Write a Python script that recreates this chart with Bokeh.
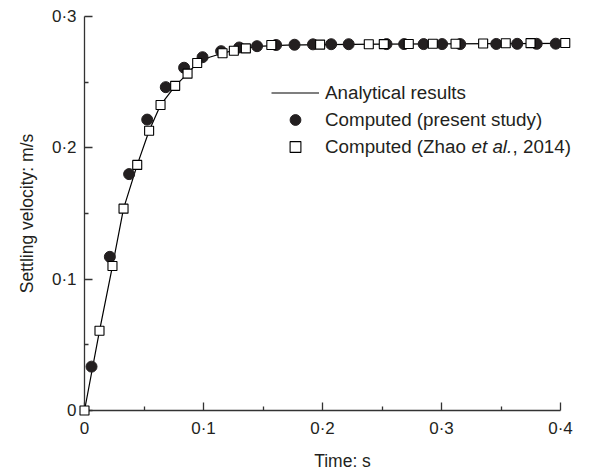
from bokeh.plotting import figure
from bokeh.models import (Range1d, FixedTicker, CustomJSTickFormatter, Legend,
                          LegendItem, Label, ColumnDataSource)
from bokeh.embed import file_html
from bokeh.resources import INLINE

# ---- data ----
t_analytical = [0.0, 0.0126, 0.0235, 0.0328, 0.0443, 0.0543, 0.0639, 0.0762,
                0.0866, 0.0947, 0.105, 0.116, 0.1255, 0.1356, 0.15, 0.17,
                0.20, 0.25, 0.30, 0.35, 0.40]
v_analytical = [0.0, 0.0607, 0.110, 0.1537, 0.187, 0.213, 0.2326, 0.2472,
                0.2565, 0.2646, 0.2690, 0.2720, 0.2742, 0.2760, 0.2774, 0.2782,
                0.2786, 0.2789, 0.2791, 0.2793, 0.2795]

t_present = [0.0059, 0.0213, 0.0375, 0.0527, 0.0683, 0.0837, 0.0992, 0.1148,
             0.1300, 0.1450, 0.1610, 0.1765, 0.1920, 0.2073, 0.2220, 0.2538,
             0.2686, 0.2850, 0.3005, 0.3157, 0.3460, 0.3636, 0.3800, 0.3960]
v_present = [0.0334, 0.117, 0.180, 0.2215, 0.2462, 0.2610, 0.2690, 0.2736,
             0.2764, 0.2774, 0.2783, 0.2785, 0.2788, 0.2789, 0.2789, 0.2790,
             0.2790, 0.2790, 0.2790, 0.2790, 0.2791, 0.2792, 0.2792, 0.2793]

t_zhao = [0.0, 0.0126, 0.0235, 0.0328, 0.0443, 0.0543, 0.0639, 0.0762,
          0.0866, 0.0947, 0.1160, 0.1255, 0.1356, 0.1570, 0.1980, 0.2389,
          0.2515, 0.2725, 0.2927, 0.3118, 0.3350, 0.3540, 0.3748, 0.4040]
v_zhao = [0.0, 0.0607, 0.110, 0.1537, 0.187, 0.213, 0.2326, 0.2472,
          0.2565, 0.2646, 0.2720, 0.2739, 0.2757, 0.2783, 0.2786, 0.2789,
          0.2790, 0.2791, 0.2792, 0.2793, 0.2794, 0.2796, 0.2797, 0.2798]

x_tick_values = [0.0, 0.1, 0.2, 0.3, 0.4]
x_tick_labels = ["0", "0\u00b71", "0\u00b72", "0\u00b73", "0\u00b74"]
x_minor_ticks = [0.05, 0.15, 0.25, 0.35]
y_tick_values = [0.0, 0.1, 0.2, 0.3]
y_tick_labels = ["0", "0\u00b71", "0\u00b72", "0\u00b73"]
y_minor_ticks = [0.05, 0.15, 0.25]

x_title = "Time: s"
y_title = "Settling velocity: m/s"
legend_labels = ["Analytical results", "Computed (present study)", "Computed (Zhao"]
legend_italic = "et al."
legend_tail = ", 2014)"

FONT = "Liberation Sans"
TXT = "#231f20"

# layout (page pixels)
W, H = 601, 473
FR_L, FR_T, FR_B = 84, 16, 413      # frame left/top/bottom
AX_R = 560                          # where the x axis (0.4) ends
FR_R = 600                          # frame extends to the right for the legend text
x_end = x_tick_values[-1] * (FR_R - FR_L) / (AX_R - FR_L)

p = figure(width=W, height=H, output_backend="svg", toolbar_location=None,
           x_range=Range1d(0, x_end), y_range=Range1d(0, y_tick_values[-1]),
           min_border_left=FR_L, min_border_right=W - FR_R, min_border_top=FR_T,
           min_border_bottom=H - FR_B)
p.outline_line_color = None
p.xgrid.visible = False
p.ygrid.visible = False
p.background_fill_color = "white"
p.border_fill_color = "white"

fmt_code = """
for (let i = 0; i < vals.length; i++) {
  if (Math.abs(tick - vals[i]) < 1e-9) { return labs[i]; }
}
return '';
"""
p.xaxis.ticker = FixedTicker(ticks=x_tick_values, minor_ticks=x_minor_ticks)
p.yaxis.ticker = FixedTicker(ticks=y_tick_values, minor_ticks=y_minor_ticks)
p.xaxis.formatter = CustomJSTickFormatter(args=dict(vals=x_tick_values, labs=x_tick_labels), code=fmt_code)
p.yaxis.formatter = CustomJSTickFormatter(args=dict(vals=y_tick_values, labs=y_tick_labels), code=fmt_code)
p.xaxis.bounds = (x_tick_values[0], x_tick_values[-1])

for ax in (p.xaxis[0], p.yaxis[0]):
    ax.axis_line_color = "#333333"
    ax.axis_line_width = 1.3
    ax.major_tick_line_color = "#333333"
    ax.minor_tick_line_color = "#333333"
    ax.major_tick_line_width = 1.3
    ax.minor_tick_line_width = 1.3
    ax.major_tick_in = 8
    ax.major_tick_out = 0
    ax.minor_tick_in = 4
    ax.minor_tick_out = 0
    ax.major_label_text_font = FONT
    ax.major_label_text_font_size = "17px"
    ax.major_label_text_color = TXT
    ax.axis_label_text_font = FONT
    ax.axis_label_text_font_size = "17.5px"
    ax.axis_label_text_font_style = "normal"
    ax.axis_label_text_color = TXT
    ax.major_label_standoff = 8

p.xaxis.axis_label = x_title
p.yaxis.axis_label = y_title
p.xaxis.axis_label_standoff = 10
p.yaxis.axis_label_standoff = 12

src_a = ColumnDataSource(dict(t=t_analytical, v=v_analytical))
src_p = ColumnDataSource(dict(t=t_present, v=v_present))
src_z = ColumnDataSource(dict(t=t_zhao, v=v_zhao))

r_line = p.line("t", "v", source=src_a, line_color="black", line_width=1.2)
r_circ = p.scatter("t", "v", source=src_p, marker="circle", size=11,
                   fill_color=TXT, line_color=TXT, line_width=1)
r_sq = p.scatter("t", "v", source=src_z, marker="square", size=9,
                 fill_color="white", line_color="black", line_width=1.1)
for r in (r_line, r_circ, r_sq):
    r.level = "overlay"

LEG_FS = "18.8px"
legend = Legend(items=[LegendItem(label=legend_labels[0], renderers=[r_line]),
                       LegendItem(label=legend_labels[1], renderers=[r_circ]),
                       LegendItem(label=legend_labels[2], renderers=[r_sq])],
                location=(187, 250), padding=0, margin=0, spacing=0,
                glyph_width=48, glyph_height=27, label_height=27,
                label_standoff=6, border_line_alpha=0, background_fill_alpha=0,
                label_text_font=FONT, label_text_font_size=LEG_FS,
                label_text_color=TXT)
p.add_layout(legend, "center")

lab1 = Label(x=387, y=264, x_units="screen", y_units="screen", text=legend_italic,
             text_font=FONT, text_font_style="italic", text_font_size=LEG_FS,
             text_color=TXT, text_baseline="middle", text_align="left")
lab2 = Label(x=428, y=264, x_units="screen", y_units="screen", text=legend_tail,
             text_font=FONT, text_font_size=LEG_FS,
             text_color=TXT, text_baseline="middle", text_align="left")
p.add_layout(lab1)
p.add_layout(lab2)

open("out.html", "w").write(file_html(p, INLINE))
